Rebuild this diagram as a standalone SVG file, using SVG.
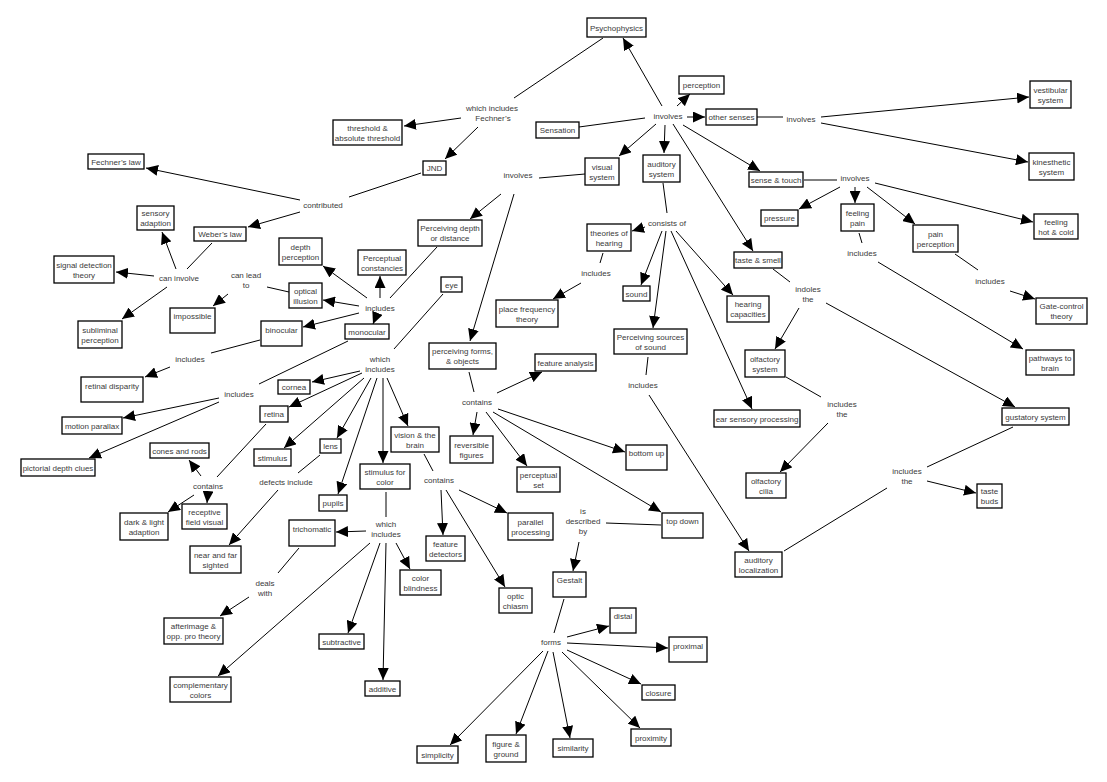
<svg xmlns="http://www.w3.org/2000/svg" width="1107" height="782" viewBox="0 0 1107 782">
<defs>
<marker id="ah" markerUnits="userSpaceOnUse" markerWidth="12" markerHeight="11" viewBox="0 0 12 11" refX="12" refY="5.5" orient="auto"><path d="M0,0 L12,5.5 L0,11 z" fill="#000"/></marker>
<style>
text{font-family:"Liberation Sans",Arial,sans-serif;font-size:8px;fill:#3a3a3a;text-anchor:middle}
.n rect{fill:#fff;stroke:#000;stroke-width:1.3}
#connectors line{stroke:#000;stroke-width:1}
#connectors line.a{marker-end:url(#ah)}
</style>
</defs>
<rect width="1107" height="782" fill="#fff"/>
<g id="connectors">
<line x1="579" y1="127" x2="645" y2="118"/>
<line class="a" x1="662" y1="106" x2="623" y2="38"/>
<line class="a" x1="677" y1="106" x2="690" y2="94"/>
<line class="a" x1="687" y1="117" x2="705" y2="117"/>
<line class="a" x1="656" y1="124" x2="619" y2="156"/>
<line class="a" x1="665" y1="125" x2="664" y2="153"/>
<line class="a" x1="683" y1="125" x2="760" y2="171"/>
<line class="a" x1="673" y1="124" x2="753" y2="251"/>
<line x1="603" y1="38" x2="514" y2="98"/>
<line class="a" x1="461" y1="118" x2="404" y2="126"/>
<line class="a" x1="478" y1="127" x2="445" y2="159"/>
<line x1="421" y1="173" x2="349" y2="197"/>
<line class="a" x1="300" y1="200" x2="146" y2="168"/>
<line class="a" x1="300" y1="212" x2="248" y2="227"/>
<line x1="212" y1="243" x2="187" y2="269"/>
<line class="a" x1="176" y1="269" x2="162" y2="232"/>
<line class="a" x1="154" y1="276" x2="116" y2="272"/>
<line class="a" x1="167" y1="287" x2="122" y2="319"/>
<line x1="539" y1="178" x2="585" y2="174"/>
<line class="a" x1="501" y1="194" x2="470" y2="219"/>
<line class="a" x1="514" y1="194" x2="470" y2="341"/>
<line x1="437" y1="247" x2="390" y2="298"/>
<line class="a" x1="367" y1="298" x2="323" y2="266"/>
<line class="a" x1="380" y1="298" x2="380" y2="276"/>
<line class="a" x1="359" y1="306" x2="323" y2="300"/>
<line class="a" x1="359" y1="313" x2="303" y2="327"/>
<line class="a" x1="377" y1="314" x2="373" y2="324"/>
<line x1="267" y1="287" x2="289" y2="292"/>
<line class="a" x1="228" y1="294" x2="213" y2="306"/>
<line x1="260" y1="340" x2="211" y2="353"/>
<line class="a" x1="170" y1="367" x2="145" y2="377"/>
<line x1="348" y1="341" x2="259" y2="384"/>
<line class="a" x1="219" y1="398" x2="123" y2="418"/>
<line class="a" x1="219" y1="402" x2="89" y2="458"/>
<line x1="443" y1="294" x2="394" y2="349"/>
<line class="a" x1="360" y1="371" x2="312" y2="382"/>
<line class="a" x1="362" y1="373" x2="289" y2="407"/>
<line class="a" x1="364" y1="378" x2="284" y2="448"/>
<line class="a" x1="371" y1="378" x2="337" y2="438"/>
<line class="a" x1="377" y1="378" x2="338" y2="494"/>
<line class="a" x1="383" y1="378" x2="383" y2="463"/>
<line class="a" x1="387" y1="378" x2="408" y2="426"/>
<line x1="266" y1="424" x2="217" y2="477"/>
<line class="a" x1="201" y1="476" x2="189" y2="460"/>
<line class="a" x1="208" y1="492" x2="207" y2="503"/>
<line class="a" x1="194" y1="495" x2="168" y2="512"/>
<line x1="320" y1="455" x2="298" y2="473"/>
<line class="a" x1="278" y1="490" x2="229" y2="545"/>
<line x1="469" y1="372" x2="474" y2="392"/>
<line class="a" x1="497" y1="393" x2="542" y2="372"/>
<line class="a" x1="477" y1="412" x2="473" y2="435"/>
<line class="a" x1="486" y1="412" x2="527" y2="466"/>
<line class="a" x1="498" y1="409" x2="625" y2="452"/>
<line class="a" x1="493" y1="412" x2="661" y2="512"/>
<line x1="424" y1="454" x2="433" y2="471"/>
<line class="a" x1="441" y1="490" x2="443" y2="535"/>
<line class="a" x1="446" y1="490" x2="505" y2="587"/>
<line class="a" x1="459" y1="490" x2="507" y2="513"/>
<line x1="386" y1="492" x2="386" y2="517"/>
<line class="a" x1="366" y1="531" x2="336" y2="532"/>
<line class="a" x1="396" y1="543" x2="410" y2="569"/>
<line class="a" x1="386" y1="543" x2="383" y2="680"/>
<line class="a" x1="380" y1="543" x2="348" y2="633"/>
<line class="a" x1="370" y1="543" x2="218" y2="676"/>
<line x1="299" y1="548" x2="278" y2="573"/>
<line class="a" x1="249" y1="597" x2="220" y2="616"/>
<line x1="606" y1="523" x2="661" y2="525"/>
<line class="a" x1="579" y1="542" x2="573" y2="571"/>
<line x1="564" y1="599" x2="554" y2="633"/>
<line class="a" x1="567" y1="637" x2="609" y2="626"/>
<line class="a" x1="567" y1="643" x2="668" y2="648"/>
<line class="a" x1="567" y1="650" x2="641" y2="684"/>
<line class="a" x1="562" y1="652" x2="640" y2="728"/>
<line class="a" x1="553" y1="652" x2="570" y2="738"/>
<line class="a" x1="548" y1="651" x2="516" y2="734"/>
<line class="a" x1="543" y1="651" x2="450" y2="745"/>
<line x1="663" y1="183" x2="667" y2="213"/>
<line class="a" x1="645" y1="227" x2="632" y2="231"/>
<line class="a" x1="662" y1="231" x2="641" y2="285"/>
<line class="a" x1="666" y1="231" x2="653" y2="328"/>
<line class="a" x1="676" y1="231" x2="733" y2="295"/>
<line class="a" x1="671" y1="231" x2="752" y2="409"/>
<line x1="603" y1="253" x2="600" y2="263"/>
<line class="a" x1="581" y1="283" x2="553" y2="299"/>
<line x1="648" y1="357" x2="646" y2="375"/>
<line class="a" x1="649" y1="395" x2="749" y2="551"/>
<line x1="773" y1="269" x2="790" y2="282"/>
<line class="a" x1="799" y1="308" x2="775" y2="349"/>
<line class="a" x1="826" y1="303" x2="1015" y2="407"/>
<line x1="786" y1="377" x2="821" y2="397"/>
<line class="a" x1="828" y1="423" x2="780" y2="472"/>
<line x1="1013" y1="427" x2="927" y2="467"/>
<line class="a" x1="927" y1="481" x2="976" y2="493"/>
<line x1="784" y1="551" x2="887" y2="488"/>
<line x1="804" y1="180" x2="837" y2="180"/>
<line class="a" x1="840" y1="187" x2="799" y2="209"/>
<line class="a" x1="855" y1="187" x2="855" y2="203"/>
<line class="a" x1="867" y1="187" x2="915" y2="224"/>
<line class="a" x1="875" y1="183" x2="1033" y2="222"/>
<line x1="859" y1="233" x2="862" y2="243"/>
<line class="a" x1="878" y1="262" x2="1023" y2="349"/>
<line x1="955" y1="254" x2="978" y2="270"/>
<line class="a" x1="1010" y1="291" x2="1035" y2="299"/>
<line x1="757" y1="117" x2="783" y2="117"/>
<line class="a" x1="821" y1="117" x2="1029" y2="97"/>
<line class="a" x1="821" y1="123" x2="1028" y2="162"/>
</g>
<g id="labels">
<text x="492" y="111">which includes</text><text x="493" y="121">Fechner’s</text>
<text x="668" y="119">involves</text>
<text x="801" y="122">involves</text>
<text x="518" y="178">involves</text>
<text x="323" y="208">contributed</text>
<text x="179" y="281">can involve</text>
<text x="246" y="278">can lead</text><text x="246" y="288">to</text>
<text x="380" y="311">includes</text>
<text x="190" y="362">includes</text>
<text x="239" y="397">includes</text>
<text x="380" y="362">which</text><text x="380" y="372">includes</text>
<text x="208" y="489">contains</text>
<text x="286" y="485">defects include</text>
<text x="477" y="405">contains</text>
<text x="439" y="483">contains</text>
<text x="386" y="527">which</text><text x="386" y="537">includes</text>
<text x="265" y="586">deals</text><text x="265" y="596">with</text>
<text x="583" y="514">is</text><text x="583" y="524">described</text><text x="583" y="534">by</text>
<text x="551" y="645">forms</text>
<text x="667" y="226">consists of</text>
<text x="596" y="276">includes</text>
<text x="643" y="388">includes</text>
<text x="808" y="292">indoles</text><text x="808" y="302">the</text>
<text x="842" y="407">includes</text><text x="842" y="417">the</text>
<text x="907" y="474">includes</text><text x="907" y="484">the</text>
<text x="855" y="181">involves</text>
<text x="862" y="256">includes</text>
<text x="990" y="284">includes</text>
</g>
<g id="n-psychophysics" class="n"><rect x="587" y="18" width="59" height="19"/><text x="616.5" y="30.5">Psychophysics</text></g>
<g id="n-perception" class="n"><rect x="679" y="76" width="45" height="18"/><text x="701.5" y="88">perception</text></g>
<g id="n-other-senses" class="n"><rect x="706" y="109" width="51" height="16"/><text x="731.5" y="120">other senses</text></g>
<g id="n-sensation" class="n"><rect x="536" y="122" width="43" height="16"/><text x="557.5" y="133">Sensation</text></g>
<g id="n-visual-system" class="n"><rect x="585" y="158" width="34" height="27"/><text x="602" y="169.5">visual</text><text x="602" y="179.5">system</text></g>
<g id="n-auditory-system" class="n"><rect x="643" y="155" width="37" height="27"/><text x="661.5" y="166.5">auditory</text><text x="661.5" y="176.5">system</text></g>
<g id="n-sense-touch" class="n"><rect x="749" y="172" width="54" height="15"/><text x="776" y="182.5">sense &amp; touch</text></g>
<g id="n-pressure" class="n"><rect x="761" y="210" width="37" height="16"/><text x="779.5" y="221">pressure</text></g>
<g id="n-theories-hearing" class="n"><rect x="587" y="224" width="44" height="27"/><text x="609" y="235.5">theories of</text><text x="609" y="245.5">hearing</text></g>
<g id="n-taste-smell" class="n"><rect x="734" y="252" width="48" height="16"/><text x="758" y="263">taste &amp; smell</text></g>
<g id="n-vestibular" class="n"><rect x="1030" y="81" width="41" height="27"/><text x="1050.5" y="92.5">vestibular</text><text x="1050.5" y="102.5">system</text></g>
<g id="n-kinesthetic" class="n"><rect x="1029" y="153" width="45" height="27"/><text x="1051.5" y="164.5">kinesthetic</text><text x="1051.5" y="174.5">system</text></g>
<g id="n-feeling-pain" class="n"><rect x="841" y="204" width="33" height="27"/><text x="857.5" y="215.5">feeling</text><text x="857.5" y="225.5">pain</text></g>
<g id="n-pain-perception" class="n"><rect x="913" y="225" width="45" height="27"/><text x="935.5" y="236.5">pain</text><text x="935.5" y="246.5">perception</text></g>
<g id="n-hot-cold" class="n"><rect x="1034" y="214" width="44" height="25"/><text x="1056" y="224.5">feeling</text><text x="1056" y="234.5">hot &amp; cold</text></g>
<g id="n-fechners-law" class="n"><rect x="88" y="154" width="56" height="15"/><text x="116" y="164.5">Fechner’s law</text></g>
<g id="n-sensory-adaption" class="n"><rect x="137" y="206" width="37" height="24"/><text x="155.5" y="216">sensory</text><text x="155.5" y="226">adaption</text></g>
<g id="n-webers-law" class="n"><rect x="194" y="227" width="52" height="14"/><text x="220" y="237">Weber’s law</text></g>
<g id="n-signal-detection" class="n"><rect x="54" y="256" width="60" height="27"/><text x="84" y="267.5">signal detection</text><text x="84" y="277.5">theory</text></g>
<g id="n-threshold" class="n"><rect x="333" y="120" width="69" height="25"/><text x="367.5" y="130.5">threshold &amp;</text><text x="367.5" y="140.5">absolute threshold</text></g>
<g id="n-jnd" class="n"><rect x="423" y="161" width="23" height="14"/><text x="434.5" y="171">JND</text></g>
<g id="n-perceiving-depth" class="n"><rect x="418" y="220" width="64" height="26"/><text x="450" y="231">Perceiving depth</text><text x="450" y="241">or distance</text></g>
<g id="n-depth-perception" class="n"><rect x="279" y="238" width="43" height="27"/><text x="300.5" y="249.5">depth</text><text x="300.5" y="259.5">perception</text></g>
<g id="n-constancies" class="n"><rect x="358" y="250" width="48" height="25"/><text x="382" y="260.5">Perceptual</text><text x="382" y="270.5">constancies</text></g>
<g id="n-impossible" class="n"><rect x="170" y="308" width="45" height="25"/><text x="192.5" y="319">impossible</text></g>
<g id="n-subliminal" class="n"><rect x="78" y="321" width="44" height="27"/><text x="100" y="332.5">subliminal</text><text x="100" y="342.5">perception</text></g>
<g id="n-binocular" class="n"><rect x="261" y="321" width="41" height="25"/><text x="281.5" y="333">binocular</text></g>
<g id="n-retinal-disparity" class="n"><rect x="81" y="377" width="62" height="25"/><text x="112" y="388.5">retinal disparity</text></g>
<g id="n-motion-parallax" class="n"><rect x="62" y="417" width="60" height="17"/><text x="92" y="428.5">motion parallax</text></g>
<g id="n-pictorial" class="n"><rect x="21" y="459" width="74" height="17"/><text x="58" y="470.5">pictorial depth clues</text></g>
<g id="n-cones-rods" class="n"><rect x="150" y="443" width="59" height="15"/><text x="179.5" y="453.5">cones and rods</text></g>
<g id="n-receptive" class="n"><rect x="182" y="504" width="45" height="25"/><text x="204.5" y="514.5">receptive</text><text x="204.5" y="524.5">field visual</text></g>
<g id="n-dark-light" class="n"><rect x="120" y="513" width="48" height="27"/><text x="144" y="524.5">dark &amp; light</text><text x="144" y="534.5">adaption</text></g>
<g id="n-retina" class="n"><rect x="260" y="406" width="28" height="16"/><text x="274" y="417">retina</text></g>
<g id="n-stimulus" class="n"><rect x="254" y="449" width="37" height="17"/><text x="272.5" y="460.5">stimulus</text></g>
<g id="n-near-far" class="n"><rect x="190" y="546" width="51" height="27"/><text x="215.5" y="557.5">near and far</text><text x="215.5" y="567.5">sighted</text></g>
<g id="n-optical-illusion" class="n"><rect x="289" y="283" width="33" height="25"/><text x="305.5" y="293.5">optical</text><text x="305.5" y="303.5">illusion</text></g>
<g id="n-monocular" class="n"><rect x="345" y="324" width="44" height="15"/><text x="367" y="334.5">monocular</text></g>
<g id="n-eye" class="n"><rect x="441" y="277" width="21" height="15"/><text x="451.5" y="287.5">eye</text></g>
<g id="n-cornea" class="n"><rect x="278" y="380" width="32" height="14"/><text x="294" y="390">cornea</text></g>
<g id="n-lens" class="n"><rect x="320" y="439" width="21" height="14"/><text x="330.5" y="449">lens</text></g>
<g id="n-pupils" class="n"><rect x="319" y="495" width="28" height="16"/><text x="333" y="506">pupils</text></g>
<g id="n-stimulus-color" class="n"><rect x="360" y="464" width="50" height="25"/><text x="385" y="474.5">stimulus for</text><text x="385" y="484.5">color</text></g>
<g id="n-vision-brain" class="n"><rect x="391" y="427" width="48" height="25"/><text x="415" y="437.5">vision &amp; the</text><text x="415" y="447.5">brain</text></g>
<g id="n-perceiving-forms" class="n"><rect x="429" y="343" width="67" height="26"/><text x="462.5" y="354">perceiving forms,</text><text x="462.5" y="364">&amp; objects</text></g>
<g id="n-place-frequency" class="n"><rect x="496" y="300" width="62" height="27"/><text x="527" y="311.5">place frequency</text><text x="527" y="321.5">theory</text></g>
<g id="n-feature-analysis" class="n"><rect x="535" y="354" width="61" height="17"/><text x="565.5" y="365.5">feature analysis</text></g>
<g id="n-reversible" class="n"><rect x="450" y="436" width="43" height="27"/><text x="471.5" y="447.5">reversible</text><text x="471.5" y="457.5">figures</text></g>
<g id="n-perceptual-set" class="n"><rect x="517" y="467" width="43" height="25"/><text x="538.5" y="477.5">perceptual</text><text x="538.5" y="487.5">set</text></g>
<g id="n-parallel" class="n"><rect x="508" y="513" width="45" height="27"/><text x="530.5" y="524.5">parallel</text><text x="530.5" y="534.5">processing</text></g>
<g id="n-trichomatic" class="n"><rect x="289" y="520" width="46" height="26"/><text x="312" y="532">trichomatic</text></g>
<g id="n-feature-detectors" class="n"><rect x="426" y="536" width="39" height="25"/><text x="445.5" y="546.5">feature</text><text x="445.5" y="556.5">detectors</text></g>
<g id="n-color-blindness" class="n"><rect x="400" y="570" width="41" height="25"/><text x="420.5" y="580.5">color</text><text x="420.5" y="590.5">blindness</text></g>
<g id="n-optic-chiasm" class="n"><rect x="499" y="588" width="33" height="25"/><text x="515.5" y="598.5">optic</text><text x="515.5" y="608.5">chiasm</text></g>
<g id="n-subtractive" class="n"><rect x="319" y="634" width="45" height="15"/><text x="341.5" y="644.5">subtractive</text></g>
<g id="n-additive" class="n"><rect x="365" y="681" width="35" height="15"/><text x="382.5" y="691.5">additive</text></g>
<g id="n-simplicity" class="n"><rect x="417" y="746" width="41" height="17"/><text x="437.5" y="757.5">simplicity</text></g>
<g id="n-figure-ground" class="n"><rect x="486" y="735" width="40" height="27"/><text x="506" y="746.5">figure &amp;</text><text x="506" y="756.5">ground</text></g>
<g id="n-afterimage" class="n"><rect x="164" y="618" width="59" height="26"/><text x="193.5" y="629">afterimage &amp;</text><text x="193.5" y="639">opp. pro theory</text></g>
<g id="n-complementary" class="n"><rect x="170" y="677" width="61" height="25"/><text x="200.5" y="687.5">complementary</text><text x="200.5" y="697.5">colors</text></g>
<g id="n-sound" class="n"><rect x="623" y="286" width="27" height="15"/><text x="636.5" y="296.5">sound</text></g>
<g id="n-hearing-capacities" class="n"><rect x="727" y="296" width="42" height="26"/><text x="748" y="307">hearing</text><text x="748" y="317">capacities</text></g>
<g id="n-sources-sound" class="n"><rect x="614" y="329" width="73" height="25"/><text x="650.5" y="339.5">Perceiving sources</text><text x="650.5" y="349.5">of sound</text></g>
<g id="n-olfactory-system" class="n"><rect x="745" y="350" width="40" height="27"/><text x="765" y="361.5">olfactory</text><text x="765" y="371.5">system</text></g>
<g id="n-ear-sensory" class="n"><rect x="714" y="410" width="86" height="17"/><text x="757" y="421.5">ear sensory processing</text></g>
<g id="n-olfactory-cilia" class="n"><rect x="746" y="473" width="40" height="25"/><text x="766" y="483.5">olfactory</text><text x="766" y="493.5">cilia</text></g>
<g id="n-bottom-up" class="n"><rect x="626" y="445" width="41" height="25"/><text x="646.5" y="456">bottom up</text></g>
<g id="n-top-down" class="n"><rect x="662" y="513" width="41" height="25"/><text x="682.5" y="524">top down</text></g>
<g id="n-gate-control" class="n"><rect x="1036" y="298" width="51" height="26"/><text x="1061.5" y="309">Gate-control</text><text x="1061.5" y="319">theory</text></g>
<g id="n-pathways" class="n"><rect x="1026" y="350" width="48" height="25"/><text x="1050" y="360.5">pathways to</text><text x="1050" y="370.5">brain</text></g>
<g id="n-gustatory" class="n"><rect x="1002" y="408" width="67" height="17"/><text x="1035.5" y="419.5">gustatory system</text></g>
<g id="n-taste-buds" class="n"><rect x="977" y="484" width="25" height="24"/><text x="989.5" y="494">taste</text><text x="989.5" y="504">buds</text></g>
<g id="n-auditory-localization" class="n"><rect x="735" y="552" width="47" height="25"/><text x="758.5" y="562.5">auditory</text><text x="758.5" y="572.5">localization</text></g>
<g id="n-gestalt" class="n"><rect x="553" y="572" width="33" height="25"/><text x="569.5" y="583">Gestalt</text></g>
<g id="n-distal" class="n"><rect x="610" y="608" width="26" height="25"/><text x="623" y="619">distal</text></g>
<g id="n-proximal" class="n"><rect x="669" y="637" width="38" height="25"/><text x="688" y="648.5">proximal</text></g>
<g id="n-closure" class="n"><rect x="642" y="685" width="33" height="15"/><text x="658.5" y="695.5">closure</text></g>
<g id="n-proximity" class="n"><rect x="631" y="729" width="40" height="17"/><text x="651" y="740.5">proximity</text></g>
<g id="n-similarity" class="n"><rect x="553" y="739" width="40" height="18"/><text x="573" y="751">similarity</text></g>
</svg>
